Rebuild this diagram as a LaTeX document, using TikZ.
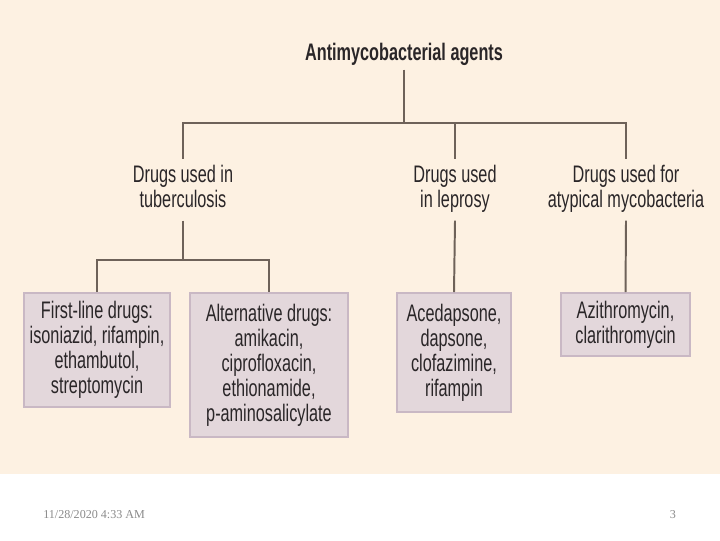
\documentclass[tikz,border=0pt]{standalone}
\usepackage{fontspec}
\setmainfont{Liberation Serif}
\newfontfamily\chartfont[FakeStretch=0.68]{Liberation Sans}
\usetikzlibrary{positioning}
\definecolor{paper}{HTML}{FDF1E2}
\definecolor{linkbrown}{HTML}{6E6259}
\definecolor{boxfill}{HTML}{E3D7DB}
\definecolor{boxedge}{HTML}{C9B8C4}
\definecolor{inktext}{HTML}{2A2628}
\definecolor{footgray}{HTML}{8A8A8A}

\tikzset{
    conn/.style={draw=linkbrown, line width=1.4pt},
    heading/.style={font=\chartfont\bfseries\fontsize{17}{18}\selectfont, text=inktext, inner sep=3pt},
    group/.style={font=\chartfont\fontsize{17}{17.8}\selectfont, align=center, text=inktext,
        inner sep=4pt, anchor=north, execute at end node=\strut},
    drugbox/.style={draw=boxedge, fill=boxfill, line width=1.5pt, align=center, anchor=north,
        font=\chartfont\fontsize{17}{17.8}\selectfont, text=inktext, inner sep=2pt},
    footer/.style={font=\fontsize{8.6}{10}\selectfont, text=footgray, inner sep=0pt}
}

\begin{document}
\begin{tikzpicture}[x=0.025cm, y=-0.025cm]
    % slide area
    \fill[paper] (0,0) rectangle (720,474);
    \useasboundingbox (0,0) rectangle (720,540);
    % top of the tree
    \node[heading] (agents) at (404,54) {Antimycobacterial agents};
    \coordinate (hub) at (404,123);
    % drug groups
    \node[group] (tb) at (183,159) {Drugs used in\\tuberculosis};
    \node[group] (lep) at (455,159) {Drugs used\\in leprosy};
    \node[group] (atyp) at (626,159) {Drugs used for\\atypical mycobacteria};
    \coordinate (split) at (183,260);
    % drug boxes
    \node[drugbox, minimum width=3.65cm, minimum height=2.85cm] (first) at (97,292)
        {First-line drugs:\\isoniazid, rifampin,\\ethambutol,\\streptomycin};
    \node[drugbox, minimum width=3.95cm, minimum height=3.6cm] (alt) at (269,292)
        {Alternative drugs:\\amikacin,\\ciprofloxacin,\\ethionamide,\\p-aminosalicylate};
    \node[drugbox, minimum width=2.83cm, minimum height=2.98cm] (acedap) at (454,292)
        {Acedapsone,\\dapsone,\\clofazimine,\\rifampin};
    \node[drugbox, minimum width=3.23cm, minimum height=1.58cm] (azith) at (625.5,292)
        {Azithromycin,\\clarithromycin};
    % connectors
    \draw[conn] (agents.south) -- (hub);
    \draw[conn] (hub) -| (tb.north);
    \draw[conn] (hub) -| (lep.north);
    \draw[conn] (hub) -| (atyp.north);
    \draw[conn] (tb.south) -- (split);
    \draw[conn] (split) -| (first.north);
    \draw[conn] (split) -| (alt.north);
    \draw[conn] (lep.south) -- (acedap.north);
    \draw[conn] (atyp.south) -- (azith.north);
    % footer
    \node[footer, anchor=west] (date) at (43,515) {11/28/2020 4:33 AM};
    \node[footer] (slide) at (673,515) {3};
\end{tikzpicture}
\end{document}
